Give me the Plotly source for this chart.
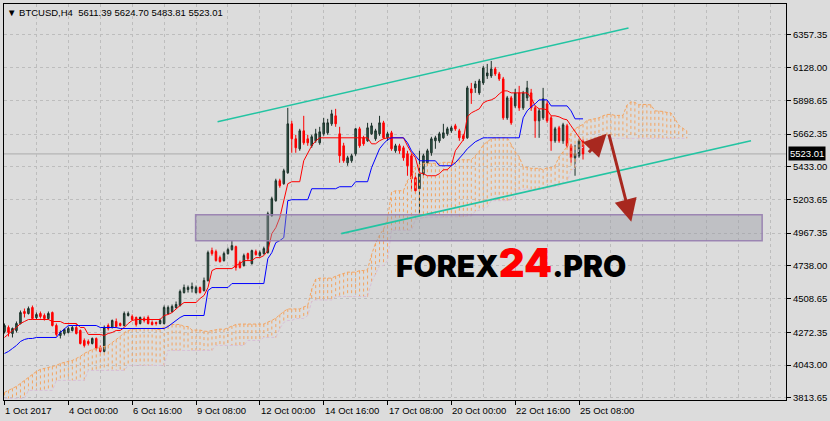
import plotly.graph_objects as go

# ---------------- data ----------------
bars = list(range(146))  # H4 bars, 1 Oct 2017 08:00 .. 25 Oct 2017 12:00

opens = [4278,4306,4264,4285,4334,4418,4404,4446,4376,4404,
         4390,4369,4411,4320,4250,4264,4271,4285,4306,4285,
         4215,4208,4194,4229,4166,4138,4320,4306,4348,4334,
         4320,4390,4383,4376,4334,4369,4376,4341,4341,4334,
         4334,4404,4418,4446,4460,4551,4572,4579,4551,4586,
         4565,4635,4845,4838,4796,4775,4824,4852,4873,4761,
         4740,4824,4754,4838,4810,4824,4831,5090,5195,5335,
         5314,5391,5734,5629,5559,5685,5629,5580,5615,5601,
         5664,5671,5734,5790,5664,5580,5461,5475,5524,5699,
         5636,5615,5664,5629,5664,5741,5636,5671,5545,5580,
         5566,5524,5510,5356,5279,5384,5461,5531,5615,5615,
         5636,5664,5685,5720,5685,5650,5636,5979,5986,5951,
         6021,6070,6070,6119,6084,6049,5776,5916,5860,5951,
         5846,5916,5951,5846,5755,5776,5874,5776,5615,5706,
         5615,5720,5580,5496,5510,5611.39]
highs = [4334,4320,4306,4348,4425,4439,4453,4460,4411,4418,
         4404,4418,4418,4334,4285,4299,4313,4320,4334,4292,
         4229,4222,4236,4236,4180,4320,4334,4362,4369,4341,
         4418,4418,4397,4383,4383,4383,4390,4355,4348,4369,
         4460,4460,4467,4488,4572,4607,4600,4621,4600,4593,
         4656,4845,4866,4852,4810,4838,4866,4915,4880,4775,
         4824,4831,4852,4852,4845,4873,5118,5223,5349,5349,
         5419,5846,5755,5657,5699,5790,5657,5657,5699,5713,
         5776,5769,5832,5839,5713,5601,5510,5524,5706,5713,
         5650,5741,5741,5699,5790,5755,5678,5685,5594,5594,
         5580,5545,5524,5391,5545,5524,5559,5643,5650,5678,
         5734,5713,5720,5734,5699,5664,6000,6021,6035,6049,
         6140,6154,6175,6133,6098,6063,5930,5930,5979,6000,
         5965,6035,5979,5860,5839,5986,5895,5790,5713,5720,
         5741,5734,5594,5587,5629,5624.70]
lows = [4264,4243,4236,4271,4327,4376,4397,4362,4362,4369,
        4355,4362,4313,4243,4229,4250,4264,4278,4257,4187,
        4166,4180,4187,4145,4131,4131,4285,4299,4306,4313,
        4313,4383,4355,4313,4327,4341,4327,4320,4320,4327,
        4327,4397,4411,4439,4453,4544,4551,4551,4544,4544,
        4558,4628,4810,4768,4761,4768,4817,4845,4705,4719,
        4733,4775,4747,4810,4803,4817,4824,5083,5188,5286,
        5307,5384,5531,5531,5545,5587,5580,5566,5601,5587,
        5650,5657,5720,5713,5461,5461,5440,5461,5510,5566,
        5580,5608,5657,5615,5650,5629,5615,5545,5531,5524,
        5475,5370,5265,5244,5090,5370,5440,5510,5559,5601,
        5629,5650,5671,5685,5615,5615,5629,5874,5951,5937,
        6007,6049,6056,6070,6035,5762,5762,5727,5846,5825,
        5832,5895,5825,5636,5636,5762,5741,5545,5601,5601,
        5594,5566,5461,5370,5496,5483.81]
closes = [4320,4271,4299,4334,4411,4404,4439,4369,4397,4383,
          4369,4404,4320,4257,4271,4292,4299,4306,4264,4194,
          4180,4194,4229,4159,4138,4306,4299,4355,4313,4320,
          4404,4404,4362,4327,4376,4355,4334,4327,4334,4355,
          4446,4446,4453,4467,4558,4586,4586,4593,4586,4551,
          4635,4831,4824,4775,4768,4824,4852,4880,4726,4726,
          4810,4789,4845,4817,4831,4859,5104,5209,5335,5300,
          5405,5734,5629,5566,5685,5601,5601,5643,5664,5678,
          5741,5741,5804,5734,5510,5475,5496,5510,5699,5580,
          5594,5706,5720,5685,5741,5636,5664,5559,5580,5545,
          5496,5440,5349,5265,5384,5510,5545,5629,5636,5664,
          5671,5699,5706,5699,5636,5629,5986,5951,6014,6035,
          6126,6091,6119,6084,6049,5776,5916,5741,5951,5846,
          5951,5986,5846,5755,5825,5909,5755,5615,5699,5615,
          5727,5580,5496,5524,5615,5523.01]

# Ichimoku lines as drawn on the chart
tenkan = [4236,4264,4285,4306,4334,4348,4362,4362,4362,4362,
          4362,4362,4348,4348,4348,4334,4334,4334,4334,4306,
          4306,4257,4257,4257,4257,4250,4264,4271,4285,4285,
          4306,4334,4355,4362,4362,4362,4362,4362,4362,4362,
          4390,4397,4411,4439,4460,4481,4481,4481,4481,4509,
          4530,4586,4705,4719,4719,4719,4719,4719,4740,4754,
          4775,4775,4775,4796,4796,4810,4845,4964,5006,5076,
          5195,5314,5328,5328,5328,5475,5524,5580,5615,5636,
          5636,5636,5636,5636,5636,5636,5636,5636,5636,5636,
          5636,5636,5594,5594,5615,5629,5636,5636,5636,5636,
          5636,5580,5531,5496,5391,5384,5370,5370,5370,5384,
          5412,5412,5440,5545,5587,5622,5783,5811,5825,5839,
          5881,5895,5902,5916,5944,5965,5965,5951,5951,5951,
          5951,5951,5916,5860,5839,5839,5832,5790,5790,5783,
          5769,5762,5720,5678,5636,5601]
kijun = [4124,4138,4159,4180,4208,4222,4229,4229,4236,4236,
         4236,4236,4236,4236,4271,4299,4320,4320,4320,4320,
         4320,4320,4320,4320,4306,4306,4306,4306,4306,4299,
         4299,4299,4299,4299,4299,4299,4299,4299,4299,4299,
         4299,4313,4334,4355,4376,4390,4390,4390,4390,4390,
         4390,4565,4586,4586,4586,4586,4586,4614,4614,4614,
         4614,4614,4614,4614,4614,4614,4789,4831,4901,4915,
         4936,5195,5202,5202,5202,5202,5202,5279,5279,5279,
         5279,5279,5279,5279,5293,5293,5293,5293,5328,5328,
         5328,5328,5426,5489,5559,5594,5622,5636,5636,5636,
         5636,5601,5545,5510,5475,5475,5475,5475,5475,5440,
         5440,5440,5440,5461,5489,5524,5559,5587,5608,5622,
         5636,5636,5636,5636,5636,5636,5636,5636,5636,5636,
         5776,5825,5853,5874,5902,5902,5902,5860,5860,5860,
         5860,5860,5825,5769,5769,5769]
span_a = [3851,3865,3879,3893,3914,3935,3956,3977,3998,4012,
          4019,4026,4033,4040,4054,4061,4068,4075,4089,4103,
          4124,4138,4152,4159,4166,4173,4180,4201,4222,4243,
          4271,4285,4295,4295,4299,4299,4299,4299,4292,4292,
          4310,4317,4327,4327,4327,4313,4313,4288,4288,4288,
          4281,4278,4285,4288,4295,4292,4302,4317,4327,4330,
          4330,4330,4330,4330,4330,4330,4344,4355,4372,4397,
          4418,4436,4436,4436,4436,4450,4460,4575,4645,4652,
          4652,4652,4652,4666,4677,4684,4694,4694,4694,4705,
          4705,4712,4817,4897,4953,4995,5065,5254,5265,5265,
          5265,5338,5363,5429,5447,5457,5457,5457,5457,5457,
          5464,5464,5464,5464,5482,5482,5482,5482,5510,5541,
          5587,5611,5629,5636,5636,5636,5636,5590,5538,5503,
          5433,5429,5422,5422,5422,5412,5426,5426,5440,5503,
          5538,5573,5671,5699,5716,5730,5758,5765,5769,5776,
          5790,5800,5800,5793,5793,5793,5864,5888,5884,5867,
          5870,5870,5867,5825,5825,5821,5814,5811,5772,5724,
          5703,5685]
span_b = [3809,3809,3809,3809,3809,3809,3865,3865,3865,3865,
          3865,3865,3865,3935,3935,3935,3935,3935,3935,3935,
          3935,4005,4005,4005,4005,4005,4005,4005,4005,4005,
          4005,4040,4040,4040,4040,4040,4040,4040,4040,4040,
          4040,4145,4145,4145,4145,4145,4145,4145,4145,4145,
          4145,4145,4145,4180,4180,4180,4180,4180,4180,4180,
          4180,4215,4215,4215,4215,4236,4236,4236,4236,4299,
          4341,4355,4355,4369,4369,4369,4390,4488,4499,4499,
          4499,4499,4499,4523,4523,4523,4523,4523,4523,4523,
          4523,4523,4625,4677,4740,4740,4775,4988,4988,4988,
          4988,4988,4988,5065,5072,5076,5080,5080,5080,5080,
          5080,5083,5083,5083,5083,5083,5087,5087,5122,5128,
          5142,5150,5195,5195,5195,5195,5195,5202,5237,5275,
          5275,5275,5275,5275,5275,5275,5282,5290,5296,5296,
          5324,5324,5408,5422,5559,5570,5615,5622,5632,5632,
          5632,5632,5632,5632,5632,5632,5632,5632,5632,5632,
          5632,5632,5632,5632,5632,5632,5632,5632,5632,5632,
          5632,5632]

xtick_bars = [-0.125, 16, 32, 48, 64, 80, 96, 112, 128, 144]
xtick_text = ["1 Oct 2017", "4 Oct 00:00", "6 Oct 16:00", "9 Oct 08:00",
              "12 Oct 00:00", "14 Oct 16:00", "17 Oct 08:00", "20 Oct 00:00",
              "22 Oct 16:00", "25 Oct 08:00"]
ytick_vals = [3813.65, 4043.00, 4272.35, 4508.65, 4738.00, 4967.35,
              5203.65, 5433.00, 5662.35, 5898.65, 6128.00, 6357.35]
ytick_text = ["3813.65", "4043.00", "4272.35", "4508.65", "4738.00", "4967.35",
              "5203.65", "5433.00", "5662.35", "5898.65", "6128.00", "6357.35"]

symbol_label = "BTCUSD,H4"
last_ohlc = ["5611.39", "5624.70", "5483.81", "5523.01"]
last_price = 5523.01

# analyst drawings (bar index, price)
upper_channel = ([53.4, 156.4], [5748, 6406])
lower_channel = ([84.4, 187.1], [4964, 5615])
support_zone = ([47.9, 189.9], [4915, 5097])
arrow_up = ([146.1, 150.9], [5524, 5664])
arrow_down = ([151.4, 157.1], [5671, 5048])
watermark_pos = (126.9, 4763)

# ---------------- styling ----------------
BG = "#dcdcdc"
GRID = "#bdbdbd"
FONT = "Liberation Sans, DejaVu Sans, Arial, sans-serif"
X_RANGE = [-0.125, 195.875]
Y_RANGE = [3797.6, 6574.2]

fig = go.Figure()

# Kumo hatching
ux, uy, dx_, dy_ = [], [], [], []
for t, (a, b) in enumerate(zip(span_a, span_b)):
    if a >= b:
        ux += [t, t, None]; uy += [a, b, None]
    else:
        dx_ += [t, t, None]; dy_ += [a, b, None]
fig.add_trace(go.Scatter(x=ux, y=uy, mode="lines",
                         line=dict(color="#f4a460", width=1, dash="3px,3px"),
                         hoverinfo="skip"))
fig.add_trace(go.Scatter(x=dx_, y=dy_, mode="lines",
                         line=dict(color="#d8bfd8", width=1, dash="3px,3px"),
                         hoverinfo="skip"))
fig.add_trace(go.Scatter(x=list(range(len(span_b))), y=span_b, mode="lines",
                         line=dict(color="#d8bfd8", width=1, dash="3px,2px"),
                         hoverinfo="skip"))
fig.add_trace(go.Scatter(x=list(range(len(span_a))), y=span_a, mode="lines",
                         line=dict(color="#f4a460", width=1, dash="3px,2px"),
                         hoverinfo="skip"))

# candles
fig.add_trace(go.Candlestick(
    x=bars, open=opens, high=highs, low=lows, close=closes,
    increasing=dict(fillcolor="#2f5f4f", line=dict(color="#1c3129", width=1)),
    decreasing=dict(fillcolor="#ff0000", line=dict(color="#ff0000", width=1)),
    whiskerwidth=0, hoverinfo="skip"))

# Tenkan / Kijun
fig.add_trace(go.Scatter(x=bars, y=tenkan, mode="lines",
                         line=dict(color="#ff0000", width=1), hoverinfo="skip"))
fig.add_trace(go.Scatter(x=bars, y=kijun, mode="lines",
                         line=dict(color="#0000ff", width=1), hoverinfo="skip"))

shapes = []
shapes.append(dict(type="line", xref="x", yref="y", x0=X_RANGE[0], x1=X_RANGE[1],
                   y0=last_price, y1=last_price, line=dict(color="#ababab", width=1),
                   layer="below"))
shapes.append(dict(type="rect", xref="x", yref="y",
                   x0=support_zone[0][0], x1=support_zone[0][1],
                   y0=support_zone[1][0], y1=support_zone[1][1],
                   fillcolor="rgba(150,152,162,0.42)",
                   line=dict(color="rgba(150,125,175,0.9)", width=1.5)))
for xs, ys in (upper_channel, lower_channel):
    shapes.append(dict(type="line", xref="x", yref="y", x0=xs[0], x1=xs[1],
                       y0=ys[0], y1=ys[1], line=dict(color="#22c4a2", width=1.6)))

annotations = []
for xb, txt in zip(xtick_bars, xtick_text):
    annotations.append(dict(x=xb, y=0, xref="x", yref="paper", text=txt,
                            showarrow=False, xanchor="left", yanchor="top",
                            yshift=-3, xshift=-1,
                            font=dict(family=FONT, size=9.5, color="#000000")))
annotations.append(dict(x=0, y=1, xref="paper", yref="paper", xanchor="left", yanchor="top",
                        xshift=1, yshift=-1, showarrow=False,
                        text="\u25bc " + symbol_label + "  " + " ".join(last_ohlc),
                        font=dict(family=FONT, size=9.5, color="#000000")))
annotations.append(dict(x=1, y=last_price, xref="paper", yref="y", xanchor="left",
                        yanchor="middle", xshift=2, showarrow=False,
                        text=f"{last_price:.2f}", bgcolor="#000000", borderpad=1,
                        font=dict(family=FONT, size=9.5, color="#ffffff")))
for xs, ys in (arrow_up, arrow_down):
    annotations.append(dict(x=xs[1], y=ys[1], ax=xs[0], ay=ys[0], xref="x", yref="y",
                            axref="x", ayref="y", showarrow=True, arrowhead=2,
                            arrowsize=1.5, arrowwidth=3, arrowcolor="#a8281f", text=""))
annotations.append(dict(x=watermark_pos[0], y=watermark_pos[1], xref="x", yref="y",
                        showarrow=False, xanchor="center", yanchor="middle",
                        text="FOREX<span style=\"color:#ff0000;font-size:40px\">24</span>.PRO",
                        font=dict(family="Inter, DejaVu Sans, sans-serif", size=30,
                                  color="#000000", weight=900)))

fig.update_layout(
    width=830, height=421,
    margin=dict(l=3, r=43, t=3, b=21, pad=0),
    paper_bgcolor=BG, plot_bgcolor=BG,
    showlegend=False, hovermode=False, boxgap=0.45,
    shapes=shapes, annotations=annotations,
    xaxis=dict(range=X_RANGE, tickmode="array", tickvals=xtick_bars, ticktext=xtick_text,
               showticklabels=False, ticks="outside", ticklen=4, tickcolor="#000000",
               showgrid=True, gridcolor=GRID, griddash="3px,3px", gridwidth=1,
               minor=dict(tick0=0, dtick=8, showgrid=True, gridcolor=GRID,
                          griddash="3px,3px", ticks=""),
               showline=True, linecolor="#000000", linewidth=1, mirror=True,
               zeroline=False, rangeslider=dict(visible=False), fixedrange=True),
    yaxis=dict(range=Y_RANGE, side="right", tickmode="array", tickvals=ytick_vals,
               ticktext=ytick_text, ticks="outside", ticklen=4, tickcolor="#000000",
               tickfont=dict(family=FONT, size=9.5, color="#000000"),
               showgrid=True, gridcolor=GRID, griddash="3px,3px", gridwidth=1,
               showline=True, linecolor="#000000", linewidth=1, mirror=True,
               zeroline=False, fixedrange=True),
)

fig.write_html("out.html", config={"displayModeBar": False},
               post_script="document.body.style.margin='0';document.body.style.overflow='hidden';"
                           "document.body.style.background='#dcdcdc';")
